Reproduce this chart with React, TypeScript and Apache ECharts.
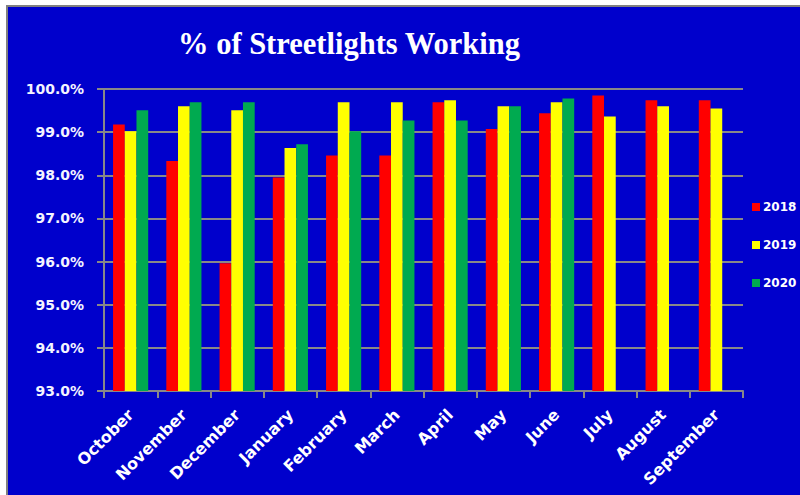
import React, { useEffect, useRef } from "react";
import * as echarts from "echarts";

const months = ["October", "November", "December", "January", "February", "March", "April", "May", "June", "July", "August", "September"];
const s2018 = [99.18, 98.33, 95.96, 97.95, 98.46, 98.46, 99.69, 99.07, 99.44, 99.85, 99.74, 99.74];
const s2019 = [99.02, 99.6, 99.51, 98.63, 99.69, 99.69, 99.74, 99.6, 99.69, 99.36, 99.6, 99.55];
const s2020 = [99.51, 99.69, 99.69, 98.72, 99.02, 99.27, 99.27, 99.6, 99.78, null, null, null];
const yMin = 93;
const yMax = 100;
const yStep = 1;

export default function App() {
  const ref = useRef<HTMLDivElement>(null);
  useEffect(() => {
    document.body.style.margin = "0";
    const chart = echarts.init(ref.current!, null, { renderer: "svg" });
    const sans = "DejaVu Sans";
    chart.setOption({
      animation: false,
      backgroundColor: "#0000CC",
      title: {
        text: "% of Streetlights Working",
        left: 170,
        top: 21,
        padding: 0,
        textStyle: { color: "#FFFFFF", fontFamily: "Liberation Serif", fontWeight: "bold", fontSize: 30.5 },
      },
      legend: {
        orient: "vertical",
        left: 744,
        top: 194,
        padding: 0,
        itemWidth: 8,
        itemHeight: 8,
        itemGap: 26,
        icon: "rect",
        textStyle: { color: "#FFFFFF", fontFamily: sans, fontWeight: "bold", fontSize: 12, lineHeight: 12, overflow: "none", padding: [0, 0, 0, -2] },
        data: ["2018", "2019", "2020"],
      },
      grid: { left: 96, top: 82, right: 57, bottom: 104 },
      xAxis: {
        type: "category",
        data: months,
        axisLine: { lineStyle: { color: "#888888", width: 2 } },
        axisTick: { show: true, length: 7, lineStyle: { color: "#888888", width: 2 } },
        axisLabel: { rotate: 45, margin: 21, color: "#FFFFFF", fontFamily: sans, fontWeight: "bold", fontSize: 16, interval: 0 },
      },
      yAxis: {
        type: "value",
        min: yMin,
        max: yMax,
        interval: yStep,
        axisLine: { show: true, lineStyle: { color: "#888888", width: 2 } },
        axisTick: { show: true, length: 7, lineStyle: { color: "#888888", width: 2 } },
        splitLine: { show: true, lineStyle: { color: "#888888", width: 2 } },
        axisLabel: {
          margin: 20,
          color: "#F4F4FF",
          fontFamily: sans,
          fontWeight: "bold",
          fontSize: 14,
          formatter: (v: number) => v.toFixed(1) + "%",
        },
      },
      series: [
        { name: "2018", type: "bar", data: s2018, barGap: "0%", barCategoryGap: "34%", itemStyle: { color: "#FF0000" } },
        { name: "2019", type: "bar", data: s2019, barGap: "0%", barCategoryGap: "34%", itemStyle: { color: "#FFFF00" } },
        { name: "2020", type: "bar", data: s2020, barGap: "0%", barCategoryGap: "34%", itemStyle: { color: "#00AA50" } },
      ],
    });
    return () => chart.dispose();
  }, []);
  return (
    <div style={{ position: "fixed", left: 0, top: 0, width: 800, height: 495, background: "#FFFFFF" }}>
      <div
        style={{
          position: "absolute",
          left: 6,
          top: 5,
          width: 794,
          height: 490,
          boxSizing: "border-box",
          borderLeft: "2px solid #808080",
          borderTop: "2px solid #808080",
          background: "#0000CC",
        }}
      >
        <div ref={ref} style={{ width: 792, height: 488 }} />
      </div>
    </div>
  );
}
